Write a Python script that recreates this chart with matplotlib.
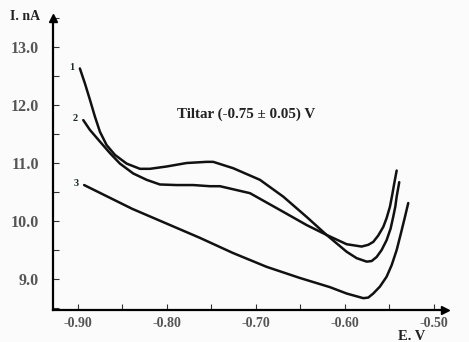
import numpy as np
import matplotlib.pyplot as plt
from matplotlib.ticker import MultipleLocator

# Curve data (E in V, I in nA)
e1 = [-0.8978, -0.8921, -0.8865, -0.8809, -0.8753, -0.8678, -0.8584, -0.8453, -0.8303,
      -0.8191, -0.8003, -0.7779, -0.7554, -0.7480, -0.7255, -0.6955, -0.6693, -0.6430,
      -0.6206, -0.5981, -0.5869, -0.5756, -0.5700, -0.5644, -0.5588, -0.5532, -0.5487,
      -0.5458, -0.5434, -0.5419, -0.5390]
i1 = [12.63, 12.37, 12.09, 11.80, 11.54, 11.31, 11.14, 10.99, 10.90,
      10.90, 10.94, 11.00, 11.02, 11.02, 10.91, 10.71, 10.42, 10.07,
      9.76, 9.47, 9.36, 9.30, 9.31, 9.38, 9.50, 9.67, 9.87,
      10.07, 10.25, 10.42, 10.67]

e2 = [-0.8940, -0.8865, -0.8753, -0.8640, -0.8528, -0.8379, -0.8228, -0.8079, -0.7891,
      -0.7704, -0.7517, -0.7404, -0.7067, -0.6730, -0.6430, -0.6206, -0.5981, -0.5813,
      -0.5738, -0.5682, -0.5626, -0.5569, -0.5532, -0.5494, -0.5469, -0.5446, -0.5419]
i2 = [11.74, 11.57, 11.37, 11.17, 10.99, 10.82, 10.71, 10.63, 10.62,
      10.62, 10.60, 10.60, 10.48, 10.19, 9.93, 9.76, 9.60, 9.56,
      9.59, 9.64, 9.75, 9.90, 10.05, 10.25, 10.45, 10.65, 10.87]

e3 = [-0.893, -0.839, -0.763, -0.726, -0.688, -0.651, -0.6169, -0.5981, -0.5794,
      -0.5738, -0.5682, -0.5607, -0.5532, -0.5475, -0.5419, -0.5371, -0.5326, -0.5289]
i3 = [10.62, 10.21, 9.71, 9.45, 9.21, 9.02, 8.86, 8.75, 8.67,
      8.68, 8.75, 8.87, 9.04, 9.24, 9.50, 9.79, 10.07, 10.31]

curve_labels = ['1', '2', '3']
x_ticks = [-0.90, -0.80, -0.70, -0.60, -0.50]
y_ticks = [9.0, 10.0, 11.0, 12.0, 13.0]

fig = plt.figure(figsize=(4.69, 3.42), dpi=100)
fig.patch.set_facecolor('#fbfbfb')
ax = fig.add_axes([53/469, 32/342, 392/469, 292/342])
ax.set_facecolor('#fbfbfb')

for e, i in [(e1, i1), (e2, i2), (e3, i3)]:
    ax.plot(e, i, color='#111111', lw=1.8, solid_joinstyle='round', solid_capstyle='round')

# curve numbers next to the start of each curve
for lab, e, i in zip(curve_labels, [e1, e2, e3], [i1, i2, i3]):
    ax.annotate(lab, (e[0], i[0]), xytext=(-4, 1), textcoords='offset points',
                ha='right', va='center', fontsize=7.5, fontweight='bold',
                family='Liberation Serif', color='#1a2a2a')

ax.set_xlim(-0.928, -0.4876)
ax.set_ylim(8.466, 13.5)

for s in ['top', 'right']:
    ax.spines[s].set_visible(False)
for s in ['left', 'bottom']:
    ax.spines[s].set_linewidth(1.6)

ax.plot(1, 0, '>', color='k', ms=6, transform=ax.transAxes, clip_on=False)
ax.plot(0, 1, '^', color='k', ms=6, transform=ax.transAxes, clip_on=False)

ax.set_xticks(x_ticks)
ax.set_xticklabels(['%.2f' % v for v in x_ticks])
ax.xaxis.set_minor_locator(MultipleLocator(0.05))
ax.set_yticks(y_ticks)
ax.set_yticklabels(['%.1f' % v for v in y_ticks])
ax.yaxis.set_minor_locator(MultipleLocator(0.5))
ax.tick_params(which='both', direction='in', length=4, width=0.8, color='#333333')
ax.tick_params(axis='y', pad=10, labelsize=11.5, labelcolor='#555555')
ax.tick_params(axis='x', pad=5, labelsize=10, labelcolor='#555555')
for t in ax.get_xticklabels() + ax.get_yticklabels():
    t.set_family('Liberation Serif')
    t.set_fontweight('bold')

fig.text(25/469, 1 - 17/342, 'I. nA', ha='center', va='center', fontsize=10,
         fontweight='bold', family='Liberation Serif', color='#222222')
fig.text(412/469, 1 - 336/342, 'E. V', ha='center', va='center', fontsize=10.5,
         fontweight='bold', family='Liberation Serif', color='#222222')
fig.text(177/469, 1 - 114/342, 'Tiltar (-0.75 ± 0.05) V', ha='left', va='center',
         fontsize=10.8, fontweight='bold', family='Liberation Serif', color='#222222')

fig.savefig('out.png', dpi=100, facecolor=fig.get_facecolor())
